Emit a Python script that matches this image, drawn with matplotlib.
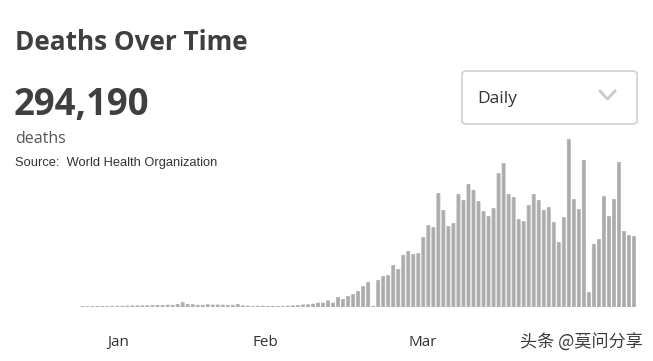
import matplotlib.pyplot as plt
import matplotlib.patches as patches

# daily deaths, one bar per day (Jan 23 .. May 13)
daily_deaths = [
    16, 15, 24, 26, 26, 38, 43, 46, 45, 57, 64, 66, 73, 73, 86, 89, 97, 108, 97, 146,
    254, 143, 142, 105, 98, 139, 115, 118, 109, 97, 103, 150, 71, 52, 29, 44, 47, 35,
    42, 31, 38, 55, 70, 90,
    120, 130, 170, 230, 230, 350, 230, 550, 440, 610, 720, 900, 1190, 1420, 40,
    1540, 1770, 1830, 2410, 2180, 3000, 3220, 3050, 3100, 4030, 4730, 4610, 6580,
    5600, 4670, 4840, 6530, 6180, 7110, 6760, 6120, 5540, 5250, 5710, 7740, 8320,
    6530, 6350, 5070, 4960, 5890, 6530, 6180, 5600, 5770, 4900, 3740, 5190, 9710,
    6240, 5660, 8500, 840, 3630, 3920, 6410, 5250, 6240, 8380, 4380, 4150, 4090,
]
month_labels = ['Jan', 'Feb', 'Mar']
month_tick_pos = [7.1, 36.6, 67.9]

W, H = 653, 361
fig = plt.figure(figsize=(W / 100, H / 100), dpi=100)
fig.patch.set_facecolor('white')

def fx(px):
    return px / W

def fy(py):
    return 1 - py / H

# chart area: baseline at y=307 px, bars from x~82 px, 5 px per day
ax = fig.add_axes([fx(60), fy(307), fx(640) - fx(60), (307 - 130) / H])
days = list(range(len(daily_deaths)))
bars = ax.bar(days, daily_deaths, width=0.6, color='#ababab', edgecolor='#b4b4b4',
              linewidth=0.6)
for b in bars:
    b.set_snap(False)
ax.set_xlim(-4.45, 111.2)
ax.set_ylim(0, 177 * 58)
ax.set_xticks(month_tick_pos)
ax.set_xticklabels(month_labels, fontsize=11, color='#333333', family='Open Sans')
ax.tick_params(axis='x', length=0, pad=20)
ax.set_yticks([])
for s in ax.spines.values():
    s.set_visible(False)
ax.patch.set_alpha(0)

# header texts
fig.text(fx(15), fy(50), 'Deaths Over Time', fontsize=18.8, fontweight='bold',
         color='#3f3f3f', family='Open Sans', va='baseline')
fig.text(fx(14), fy(115), '294,190', fontsize=26.3, fontweight='bold',
         color='#3f3f3f', family='Open Sans', va='baseline')
fig.text(fx(15), fy(143), 'deaths', fontsize=11.5, color='#555555',
         family='Open Sans', va='baseline')
fig.text(fx(15), fy(166), 'Source:  World Health Organization', fontsize=9.3,
         color='#333333', family='Liberation Sans', va='baseline')

# dropdown box
box = patches.FancyBboxPatch((fx(462), fy(124)), fx(637) - fx(462), fy(71) - fy(124),
                             boxstyle='round,pad=0,rounding_size=0.008',
                             transform=fig.transFigure, ec='#cfcfcf', fc='white', lw=1.2)
fig.patches.append(box)
fig.text(fx(477), fy(99), 'Daily', fontsize=12.5, color='#333333',
         family='Open Sans', va='center')
fig.add_artist(plt.Line2D([fx(600), fx(607.5), fx(615)], [fy(91), fy(99), fy(91)],
                          transform=fig.transFigure, color='#cacaca', lw=2.0))

# watermark
fig.text(fx(643), fy(343), '头条 @莫问分享', fontsize=12.3, color='#3a3a3a',
         family=['Noto Sans CJK SC', 'DejaVu Sans'], ha='right', va='center')

fig.savefig('out.png', dpi=100)
